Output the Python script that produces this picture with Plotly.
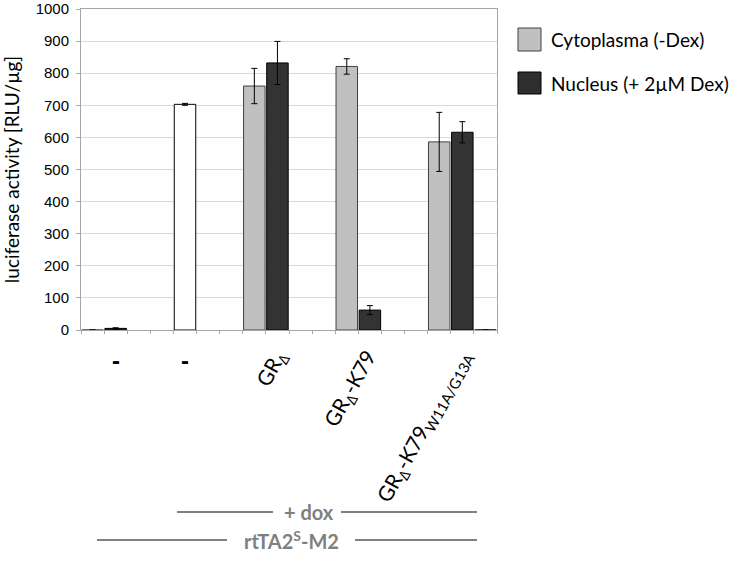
import plotly.graph_objects as go

# 18 category slots along the x axis (one bar per slot)
slots = list(range(18))

# Cytoplasma (-Dex)
cyto_x = [0, 7, 11, 15]
cyto_y = [0, 760, 821, 586]
cyto_err = [0, 55, 24, 92]

# Nucleus (+ 2µM Dex)
nuc_x = [1, 8, 12, 16, 17]
nuc_y = [5, 832, 62, 616, 0]
nuc_err = [2, 67, 14, 33, 0]

# rtTA2S-M2 + dox only (white bar)
ctrl_x = [4]
ctrl_y = [703]
ctrl_err = [3]

# category tick labels
label_pos = [8.0, 11.9, 16.0]
label_text = ["GR<sub>∆</sub>", "GR<sub>∆</sub>-K79", "GR<sub>∆</sub>-K79<sub>W11A/G13A</sub>"]
dash_pos = [1, 4]

y_ticks = list(range(0, 1001, 100))

FONT_C = "Lato, 'Open Sans', sans-serif"
FONT_A = "'Liberation Sans', Arial, sans-serif"

fig = go.Figure()

def bar(x, y, err, fill, line, name):
    fig.add_trace(go.Bar(
        x=x, y=y, name=name, width=0.93, showlegend=False,
        marker=dict(color=fill, line=dict(color=line, width=1)),
        error_y=dict(type="data", array=err, visible=True, color="#000000", thickness=1, width=3),
    ))

bar(cyto_x, cyto_y, cyto_err, "#C0C0C0", "#404040", "Cytoplasma (-Dex)")
bar(nuc_x, nuc_y, nuc_err, "#333333", "#000000", "Nucleus (+ 2µM Dex)")
bar(ctrl_x, ctrl_y, ctrl_err, "#FFFFFF", "#000000", "control")

fig.update_layout(
    width=735, height=563,
    margin=dict(l=81, r=238, t=9, b=233),
    paper_bgcolor="white", plot_bgcolor="white",
    barmode="overlay",
    showlegend=False,
    font=dict(family=FONT_C, color="#000000"),
)

fig.update_xaxes(
    range=[-0.5, 17.5], showgrid=False, zeroline=False, automargin=False,
    showline=True, linecolor="#A6A6A6", linewidth=1, mirror=True,
    tickvals=label_pos, ticktext=label_text, tickangle=-61, ticks="",
    tickfont=dict(family=FONT_C, size=21, color="#000000"),
    ticklabelstandoff=5,
    minor=dict(ticks="outside", tick0=-0.5, dtick=1, ticklen=3, tickcolor="#A6A6A6"),
)

fig.update_yaxes(
    range=[0, 1000], tickvals=y_ticks, showgrid=True, gridcolor="#D9D9D9", gridwidth=1,
    zeroline=False, showline=True, linecolor="#A6A6A6", linewidth=1, mirror=True,
    automargin=False, ticklabeloverflow="allow",
    ticks="outside", ticklen=4, tickcolor="#A6A6A6", ticklabelstandoff=4,
    tickfont=dict(family=FONT_A, size=15, color="#000000"),
    title=dict(text="luciferase activity [RLU/µg]", font=dict(family=FONT_C, size=19), standoff=11),
)

def px_x(p):
    return (p - 81) / 416.0

def px_y(p):
    return (330 - p) / 321.0

# "-" labels
for xp in dash_pos:
    fig.add_annotation(x=xp, y=px_y(361), xref="x", yref="paper", text="<b>-</b>",
                       showarrow=False, font=dict(family=FONT_A, size=24, color="#000000"),
                       xanchor="center", yanchor="middle")

# custom legend
legend_items = [("Cytoplasma (-Dex)", "#C0C0C0", "#404040", 28, 51),
                ("Nucleus (+ 2µM Dex)", "#2E2E2E", "#000000", 72, 94)]
for text, fill, line, t, b in legend_items:
    fig.add_shape(type="rect", xref="paper", yref="paper",
                  x0=px_x(518), x1=px_x(541), y0=px_y(b), y1=px_y(t),
                  fillcolor=fill, line=dict(color=line, width=1))
    fig.add_annotation(x=px_x(549), y=px_y((t + b) / 2), xref="paper", yref="paper",
                       text=text, showarrow=False, xanchor="left", yanchor="middle",
                       font=dict(family=FONT_C, size=19, color="#000000"))

# bottom brackets
GREY = "#808080"
segs = [(177, 273, 512), (341, 477, 512), (97, 227, 540), (355, 477, 540)]
for x0, x1, yy in segs:
    fig.add_shape(type="line", xref="paper", yref="paper",
                  x0=px_x(x0), x1=px_x(x1), y0=px_y(yy), y1=px_y(yy),
                  line=dict(color=GREY, width=2))
fig.add_annotation(x=px_x(309), y=px_y(512), xref="paper", yref="paper", text="<b>+ dox</b>",
                   showarrow=False, font=dict(family=FONT_C, size=20, color=GREY),
                   xanchor="center", yanchor="middle")
fig.add_annotation(x=px_x(291), y=px_y(540), xref="paper", yref="paper",
                   text="<b>rtTA2<sup>S</sup>-M2</b>",
                   showarrow=False, font=dict(family=FONT_C, size=20, color=GREY),
                   xanchor="center", yanchor="middle")

# remove the default 8px page margin so the figure fills the window
fig.write_html("out.html",
               config={"displayModeBar": False},
               post_script="document.body.style.margin='0';document.body.style.overflow='hidden';")
